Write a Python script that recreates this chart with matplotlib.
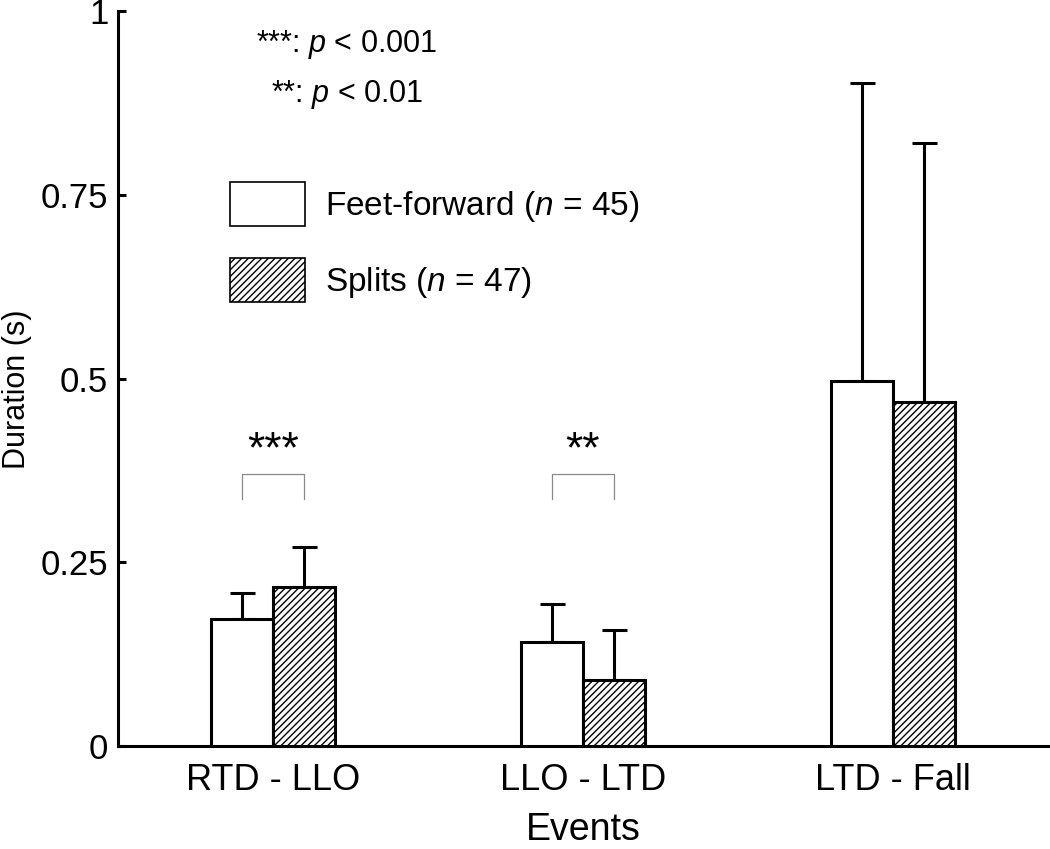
import matplotlib
matplotlib.use('Agg')
import matplotlib.pyplot as plt
from matplotlib.patches import Patch
import numpy as np

plt.rcParams['font.family'] = 'Liberation Sans'
plt.rcParams['mathtext.fontset'] = 'custom'
plt.rcParams['mathtext.rm'] = 'Liberation Sans'
plt.rcParams['mathtext.it'] = 'Liberation Sans:italic'
plt.rcParams['hatch.linewidth'] = 1.0

# data
events = ['RTD - LLO', 'LLO - LTD', 'LTD - Fall']
ff_mean = [0.173, 0.142, 0.497]
ff_sd = [0.035, 0.051, 0.405]
sp_mean = [0.216, 0.090, 0.468]
sp_sd = [0.055, 0.068, 0.352]
sig_labels = ['***', '**', '']

lw = 2.2
bar_w = 0.2
hatch = '/////'

fig = plt.figure(figsize=(10.5, 8.49), dpi=100)
ax = fig.add_axes([0.1124, 0.1213, 0.8856, 0.8657])

x = np.arange(1, len(events) + 1)
ax.bar(x - bar_w / 2, ff_mean, width=bar_w, color='white', edgecolor='black', linewidth=lw, zorder=3)
ax.bar(x + bar_w / 2, sp_mean, width=bar_w, color='white', edgecolor='black', linewidth=lw,
       hatch=hatch, zorder=3)
ax.errorbar(x - bar_w / 2, ff_mean, yerr=[np.zeros(3), ff_sd], fmt='none', ecolor='black',
            elinewidth=lw, capsize=9, capthick=lw, zorder=2)
ax.errorbar(x + bar_w / 2, sp_mean, yerr=[np.zeros(3), sp_sd], fmt='none', ecolor='black',
            elinewidth=lw, capsize=9, capthick=lw, zorder=2)

# significance brackets
for xi, lab in zip(x, sig_labels):
    if not lab:
        continue
    ax.plot([xi - bar_w / 2, xi - bar_w / 2, xi + bar_w / 2, xi + bar_w / 2],
            [0.336, 0.370, 0.370, 0.336], color='#8a8a8a', lw=0.9)
    ax.text(xi, 0.402, lab, ha='center', va='center', fontsize=32)

ax.text(0.945, 0.955, r'***: $\it{p}$ < 0.001', fontsize=22, ha='left', va='center')
ax.text(0.995, 0.887, r'**: $\it{p}$ < 0.01', fontsize=22, ha='left', va='center')

handles = [Patch(facecolor='white', edgecolor='black', linewidth=1.2),
           Patch(facecolor='white', edgecolor='black', linewidth=1.2, hatch=hatch)]
ax.legend(handles, [r'Feet-forward ($\it{n}$ = 45)', r'Splits ($\it{n}$ = 47)'],
          loc='upper left', bbox_to_anchor=(0.088, 0.808), frameon=False, fontsize=24,
          handlelength=2.25, handleheight=1.65, handletextpad=0.6, labelspacing=0.95)

ax.set_xlim(0.5, 3.5)
ax.set_ylim(0, 1)
ax.set_yticks([0, 0.25, 0.5, 0.75, 1])
ax.set_yticklabels(['0', '0.25', '0.5', '0.75', '1'])
ax.set_xticks(x)
ax.set_xticklabels(events)
ax.tick_params(axis='y', direction='in', length=6, width=lw, labelsize=25, pad=7)
ax.tick_params(axis='x', length=0, labelsize=26, pad=12)
for s in ['top', 'right']:
    ax.spines[s].set_visible(False)
for s in ['left', 'bottom']:
    ax.spines[s].set_linewidth(lw)
ax.set_xlabel('Events', fontsize=27, labelpad=10)
ax.set_ylabel('Duration (s)', fontsize=22)
ax.yaxis.set_label_coords(-0.092, 0.486)

fig.savefig('out.png', dpi=100)
